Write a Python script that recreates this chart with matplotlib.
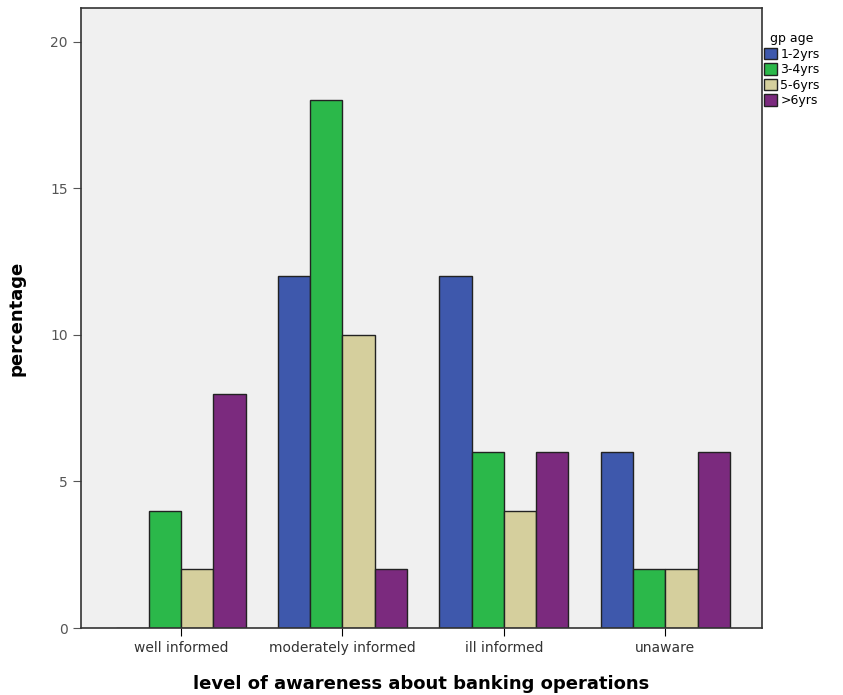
import numpy as np
import matplotlib.pyplot as plt

categories = ['well informed', 'moderately informed', 'ill informed', 'unaware']
groups = ['1-2yrs', '3-4yrs', '5-6yrs', '>6yrs']
vals_1_2 = [0, 12, 12, 6]
vals_3_4 = [4, 18, 6, 2]
vals_5_6 = [2, 10, 4, 2]
vals_6p = [8, 2, 6, 6]
colors = ['#3e58ac', '#2bb84a', '#d5cf9d', '#7b2a7e']

series = [vals_1_2, vals_3_4, vals_5_6, vals_6p]

fig = plt.figure(figsize=(8.43, 6.95), dpi=100)
ax = fig.add_axes([0.096, 0.0964, 0.808, 0.892])
ax.set_facecolor('#f0f0f0')

x = np.arange(len(categories))
w = 0.2
for i, (vals, c, g) in enumerate(zip(series, colors, groups)):
    ax.bar(x + (i - 1.5) * w, vals, width=w, color=c, edgecolor='#222222',
           linewidth=1.0, label=g)

ax.set_xlim(-0.62, 3.6)
ax.set_ylim(0, 21.15)
ax.set_xticks(x)
ax.set_xticklabels(categories, fontsize=10, color='#333333')
ax.set_yticks([0, 5, 10, 15, 20])
ax.tick_params(axis='y', labelsize=10, colors='#555555', direction='out', length=6)
ax.tick_params(axis='x', direction='out', length=6)
for s in ax.spines.values():
    s.set_color('#333333')
    s.set_linewidth(1.2)

ax.set_xlabel('level of awareness about banking operations', fontsize=13,
              fontweight='bold', labelpad=14)
ax.set_ylabel('percentage', fontsize=13, fontweight='bold', labelpad=18)

leg = ax.legend(title='gp age', loc='upper left', bbox_to_anchor=(0.99, 0.975),
                frameon=False, fontsize=9, title_fontsize=9, handlelength=1.0,
                handleheight=1.0, handletextpad=0.3, labelspacing=0.2,
                borderaxespad=0.3)

fig.savefig('out.png', dpi=100)
